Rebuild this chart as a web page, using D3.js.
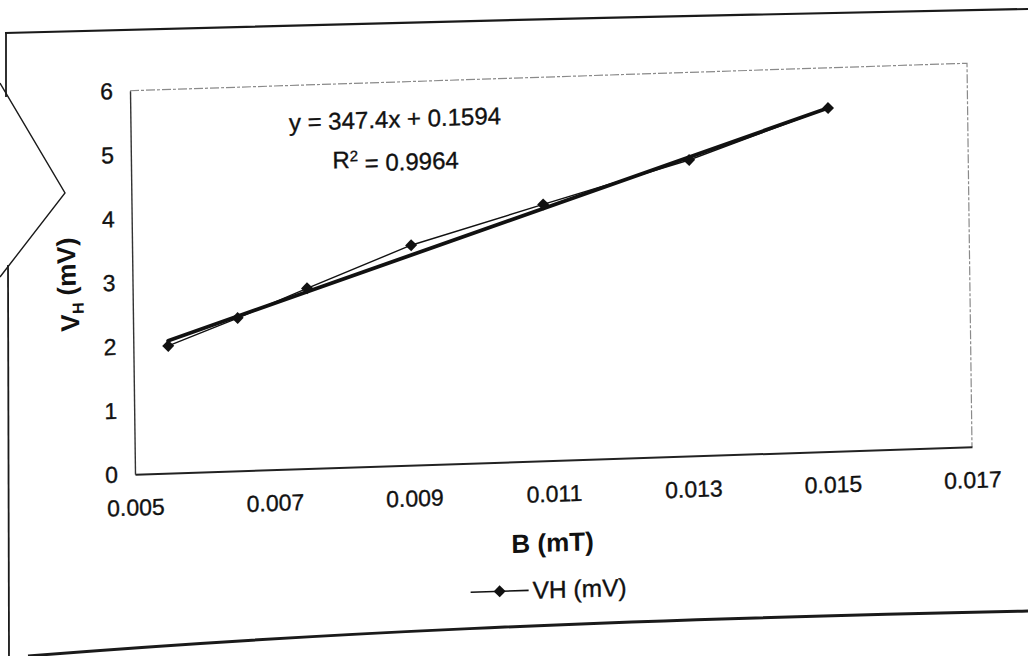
<!DOCTYPE html>
<html>
<head>
<meta charset="utf-8">
<script src="https://cdn.jsdelivr.net/npm/d3@7/dist/d3.min.js"></script>
<style>
  html, body { margin:0; padding:0; background:#fff; width:1028px; height:656px; overflow:hidden; }
  svg { position:absolute; left:0; top:0; }
  text { font-family: "Liberation Sans", Arial, sans-serif; fill:#111; }
</style>
</head>
<body>
<svg id="chart" width="1028" height="656"></svg>
<script>
// ---- data ----
const B_mT   = [0.0055, 0.0065, 0.0075, 0.009, 0.0109, 0.013, 0.015];
const VH_mV  = [1.99, 2.39, 2.82, 3.44, 4.01, 4.63, 5.37];
const xTicks = [0.005, 0.007, 0.009, 0.011, 0.013, 0.015, 0.017];
const yTicks = [0, 1, 2, 3, 4, 5, 6];
const trendSlope = 347.4;
const trendIntercept = 0.1594;
const eqLabel = "y = 347.4x + 0.1594";
const r2Value = "0.9964";
const seriesName = "VH (mV)";
const xTitle = "B (mT)";

const svg = d3.select("#chart");

// ---- page frame lines visible in the photo ----
const frameStroke = (p, w) => svg.append("path").attr("d", p).attr("fill", "none")
  .attr("stroke", "#1a1a1a").attr("stroke-width", w);
frameStroke("M5,33 C300,26 700,14 1028,9", 2.2);
frameStroke("M6,33 L6,97", 1.8);
frameStroke("M0,83 L65,193 L0,277", 1.4);
frameStroke("M8,265 L9,656", 1.8);
frameStroke("M28,656 C300,634 600,620 1028,611", 3);

// ---- chart, drawn flat and then sheared like the photographed page ----
const W = 837, H = 383.5;
const g = svg.append("g")
  .attr("transform", `matrix(1,${-27.5 / W},${5 / H},1,130,90.75)`);

const x = d3.scaleLinear().domain([0.005, 0.017]).range([0, W]);
const y = d3.scaleLinear().domain([0, 6]).range([H, 0]);

// plot area border (top/right grey)
g.append("path")
  .attr("d", `M0,0H${W}V${H}`)
  .attr("fill", "none").attr("stroke", "#8a8a8a").attr("stroke-width", 1.2)
  .attr("stroke-dasharray", "9,2,3,2");

// axes
const xAxis = g.append("g").attr("transform", `translate(0,${H})`)
  .call(d3.axisBottom(x).tickValues(xTicks).tickFormat(d3.format(".3f")).tickSize(0).tickPadding(25));
const yAxis = g.append("g")
  .call(d3.axisLeft(y).tickValues(yTicks).tickFormat(d3.format("d")).tickSize(0).tickPadding(17));
xAxis.select(".domain").attr("stroke", "#222").attr("stroke-width", 2);
yAxis.select(".domain").attr("stroke", "#333").attr("stroke-width", 1.4);
[xAxis, yAxis].forEach(a => a.selectAll("text")
  .style("font-family", '"Liberation Sans", Arial, sans-serif')
  .style("font-size", "23px").attr("fill", "#111")
  .attr("stroke", "#111").attr("stroke-width", 0.35));

// trendline
const tx = d3.extent(B_mT);
g.append("line")
  .attr("x1", x(tx[0])).attr("y1", y(trendSlope * tx[0] + trendIntercept))
  .attr("x2", x(tx[1])).attr("y2", y(trendSlope * tx[1] + trendIntercept))
  .attr("stroke", "#111").attr("stroke-width", 3.8).attr("stroke-linecap", "round");

// series line
const pts = B_mT.map((b, i) => [b, VH_mV[i]]);
g.append("path").datum(pts)
  .attr("d", d3.line().x(d => x(d[0])).y(d => y(d[1])))
  .attr("fill", "none").attr("stroke", "#111").attr("stroke-width", 1.4);

// markers (diamonds)
const diamond = d3.symbol().type(d3.symbolSquare).size(72);
g.selectAll(".mk").data(pts).join("path").attr("class", "mk")
  .attr("d", diamond)
  .attr("transform", d => `translate(${x(d[0])},${y(d[1])}) rotate(45)`)
  .attr("fill", "#111");

// equation labels
const eqX = W * 0.316;
g.append("text").attr("x", eqX).attr("y", 37).attr("dy", "0.35em")
  .attr("text-anchor", "middle").style("font-size", "24px")
  .attr("stroke", "#111").attr("stroke-width", 0.35).text(eqLabel);
const r2 = g.append("text").attr("x", eqX).attr("y", 76).attr("dy", "0.35em")
  .attr("text-anchor", "middle").style("font-size", "24px")
  .attr("stroke", "#111").attr("stroke-width", 0.35);
r2.append("tspan").text("R");
r2.append("tspan").attr("dy", "-0.45em").style("font-size", "15px").text("2");
r2.append("tspan").attr("dy", "0.45em").text(" = " + r2Value);

// axis titles
g.append("text").attr("x", W / 2 - 2).attr("y", H + 82).attr("dy", "0.35em")
  .attr("text-anchor", "middle").style("font-size", "26px").style("font-weight", "bold").text(xTitle);
const yt = g.append("text")
  .attr("transform", `translate(-63,${H / 2}) rotate(-90)`)
  .attr("text-anchor", "middle").attr("dy", "0.35em")
  .style("font-size", "26px").style("font-weight", "bold");
yt.append("tspan").text("V");
yt.append("tspan").attr("dy", "0.3em").style("font-size", "16px").text("H");
yt.append("tspan").attr("dy", "-0.3em").text(" (mV)");

// legend
const lg = g.append("g").attr("transform", `translate(${W * 0.399},${H + 129})`);
lg.append("line").attr("x1", 0).attr("x2", 58).attr("stroke", "#111").attr("stroke-width", 1.6);
lg.append("path").attr("d", diamond).attr("transform", "translate(29,0) rotate(45)").attr("fill", "#111");
lg.append("text").attr("x", 62).attr("dy", "0.35em").style("font-size", "24.5px")
  .attr("stroke", "#111").attr("stroke-width", 0.35).text(seriesName);
</script>
</body>
</html>
